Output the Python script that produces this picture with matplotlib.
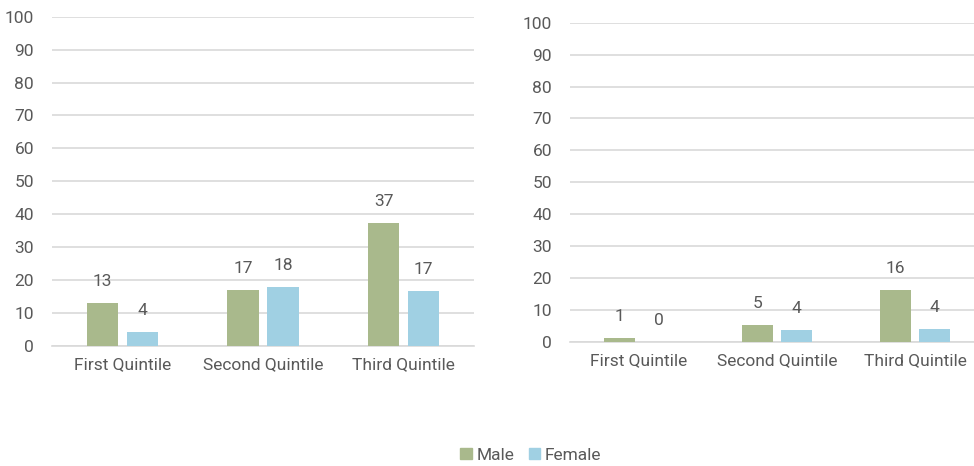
import matplotlib
matplotlib.use("Agg")
import matplotlib.pyplot as plt
import numpy as np
from matplotlib.patches import Patch

categories = ["First Quintile", "Second Quintile", "Third Quintile"]
left_male = [13.2, 16.9, 37.3]
left_female = [4.3, 17.9, 16.7]
right_male = [1.2, 5.2, 16.2]
right_female = [0.0, 3.7, 4.1]
series_names = ["Male", "Female"]
yticks = list(range(0, 101, 10))

GREEN = "#A9B98C"
BLUE = "#A0D0E3"
GRID = "#D9D9D9"
TEXT = "#595959"

plt.rcParams['font.family'] = ['Roboto', 'DejaVu Sans']
FS = 12.5

fig = plt.figure(figsize=(9.74, 4.66), dpi=100)
ax1 = fig.add_axes([52/974, (466-346)/466, 422/974, 329.3/466])
ax2 = fig.add_axes([570/974, (466-342)/466, 414/974, 319.3/466])

width = 0.222
off = 0.142

def draw(ax, male, female):
    x = np.arange(len(categories))
    bm = ax.bar(x - off, male, width, color=GREEN, zorder=3)
    bf = ax.bar(x + off, female, width, color=BLUE, zorder=3)
    for bars, vals in ((bm, male), (bf, female)):
        for b, v in zip(bars, vals):
            ax.annotate(f"{v:.0f}", (b.get_x() + b.get_width()/2, v),
                        xytext=(0, 15.5), textcoords="offset points",
                        ha="center", va="center", fontsize=FS, color=TEXT)
    ax.set_xlim(-0.5, len(categories) - 0.5)
    ax.set_ylim(0, 100)
    ax.set_yticks(yticks)
    ax.set_xticks(x)
    ax.set_xticklabels(categories)
    ax.grid(axis="y", color=GRID, linewidth=1.2, zorder=0)
    ax.set_axisbelow(True)
    for s in ["top", "right", "left"]:
        ax.spines[s].set_visible(False)
    ax.spines["bottom"].set_color(GRID)
    ax.spines["bottom"].set_linewidth(1.2)
    ax.tick_params(axis="both", length=0, labelsize=FS, colors=TEXT)
    ax.tick_params(axis="y", pad=13)
    ax.tick_params(axis="x", pad=8)

draw(ax1, left_male, left_female)
draw(ax2, right_male, right_female)

handles = [Patch(color=GREEN, label=series_names[0]), Patch(color=BLUE, label=series_names[1])]
fig.legend(handles=handles, loc="center", bbox_to_anchor=(531/974, 1 - 455/466), ncol=2,
           frameon=False, fontsize=FS, handlelength=0.65, handleheight=0.65,
           handletextpad=0.3, columnspacing=0.8, labelcolor=TEXT)

fig.savefig("out.png", dpi=100)
